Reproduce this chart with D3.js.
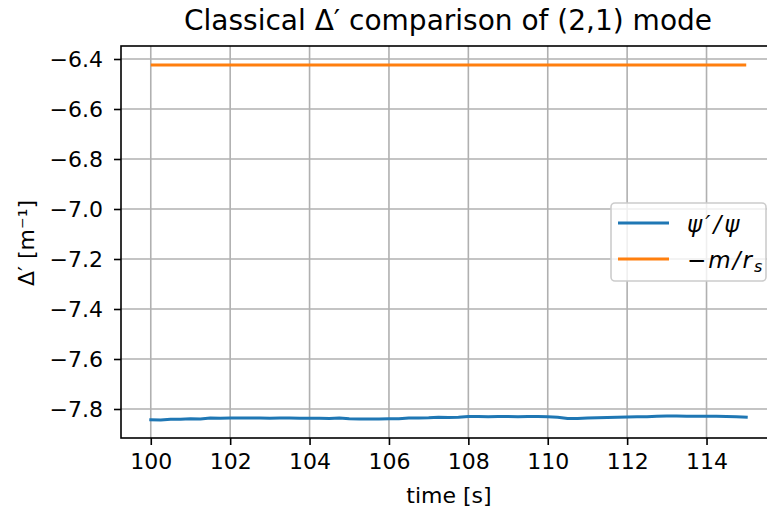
<!DOCTYPE html>
<html>
<head>
<meta charset="utf-8">
<script src="https://cdn.jsdelivr.net/npm/d3@7"></script>
<style>
body { margin: 0; background: #fff; }
text { font-family: "DejaVu Sans", sans-serif; fill: #000; }
</style>
</head>
<body>
<div id="chart"></div>
<script>
// time samples (s) and psi'/psi values
const times = [100,100.25,100.5,100.75,101,101.25,101.5,101.75,102,102.25,102.5,102.75,103,103.25,103.5,103.75,104,104.25,104.5,104.75,105,105.25,105.5,105.75,106,106.25,106.5,106.75,107,107.25,107.5,107.75,108,108.25,108.5,108.75,109,109.25,109.5,109.75,110,110.25,110.5,110.75,111,111.25,111.5,111.75,112,112.25,112.5,112.75,113,113.25,113.5,113.75,114,114.25,114.5,114.75,115];
const psiRatio = [-7.843,-7.844,-7.841,-7.841,-7.839,-7.840,-7.836,-7.837,-7.836,-7.836,-7.836,-7.836,-7.837,-7.836,-7.836,-7.837,-7.837,-7.837,-7.838,-7.836,-7.839,-7.840,-7.840,-7.840,-7.839,-7.839,-7.836,-7.836,-7.835,-7.833,-7.834,-7.833,-7.830,-7.830,-7.831,-7.830,-7.830,-7.831,-7.830,-7.830,-7.831,-7.833,-7.838,-7.838,-7.836,-7.835,-7.834,-7.833,-7.832,-7.831,-7.831,-7.829,-7.828,-7.828,-7.829,-7.829,-7.829,-7.829,-7.830,-7.831,-7.833];
const mOverRs = -6.424;
const xTicks = [100,102,104,106,108,110,112,114];
const yTicks = [-6.4,-6.6,-6.8,-7.0,-7.2,-7.4,-7.6,-7.8];

var width = 767, height = 512;
var margin = {left: 121, top: 46, right: -9, bottom: 74};

var svg = d3.select("#chart").append("svg")
    .attr("width", width)
    .attr("height", height);

var x = d3.scaleLinear()
    .domain([99.25, 115.75])
    .range([margin.left, width - margin.right]);
var y = d3.scaleLinear()
    .domain([-7.916, -6.348])
    .range([height - margin.bottom, margin.top]);

var plotW = width - margin.right - margin.left;
var plotH = height - margin.bottom - margin.top;

// grid
svg.append("g").selectAll("line").data(xTicks).enter().append("line")
    .attr("x1", d => x(d)).attr("x2", d => x(d))
    .attr("y1", margin.top).attr("y2", height - margin.bottom)
    .attr("stroke", "#b0b0b0").attr("stroke-width", 1.6);
svg.append("g").selectAll("line").data(yTicks).enter().append("line")
    .attr("y1", d => y(d)).attr("y2", d => y(d))
    .attr("x1", margin.left).attr("x2", width - margin.right)
    .attr("stroke", "#b0b0b0").attr("stroke-width", 1.6);

// lines
var line = d3.line().x(d => x(d[0])).y(d => y(d[1]));
var blue = times.map((t, i) => [t, psiRatio[i]]);
var orange = times.map(t => [t, mOverRs]);

svg.append("path").datum(orange)
    .attr("d", line).attr("fill", "none")
    .attr("stroke", "#ff7f0e").attr("stroke-width", 3);
svg.append("path").datum(blue)
    .attr("d", line).attr("fill", "none")
    .attr("stroke", "#1f77b4").attr("stroke-width", 3)
    .attr("stroke-linejoin", "round").attr("stroke-linecap", "square");

// axes
var xAxis = svg.append("g")
    .attr("transform", "translate(0," + (height - margin.bottom) + ")")
    .call(d3.axisBottom(x).tickValues(xTicks).tickSize(7).tickPadding(8).tickFormat(d3.format("d")));
var yAxis = svg.append("g")
    .attr("transform", "translate(" + margin.left + ",0)")
    .call(d3.axisLeft(y).tickValues(yTicks).tickSize(7).tickPadding(11)
        .tickFormat(d => d3.format(".1f")(d).replace("-", "\u2212")));

[xAxis, yAxis].forEach(function(a) {
    a.select(".domain").remove();
    a.selectAll(".tick line").attr("stroke", "#000").attr("stroke-width", 1.6);
    a.selectAll(".tick text").style("font-size", "22px").style("font-family", "DejaVu Sans");
});

// spines
svg.append("rect")
    .attr("x", margin.left).attr("y", margin.top)
    .attr("width", plotW).attr("height", plotH)
    .attr("fill", "none").attr("stroke", "#000").attr("stroke-width", 1.6);

// title & labels
svg.append("text")
    .attr("x", 448).attr("y", 30)
    .attr("text-anchor", "middle").style("font-size", "28px")
    .text("Classical \u0394\u2032 comparison of (2,1) mode");
svg.append("text")
    .attr("x", 449).attr("y", 503)
    .attr("text-anchor", "middle").style("font-size", "22px")
    .text("time [s]");
svg.append("text")
    .attr("transform", "translate(34,243) rotate(-90)")
    .attr("text-anchor", "middle").style("font-size", "22px")
    .text("\u0394\u2032 [m\u207b\u00b9]");

// legend
var leg = svg.append("g");
leg.append("rect")
    .attr("x", 611).attr("y", 203).attr("width", 155).attr("height", 78)
    .attr("rx", 4).attr("fill", "#fff").attr("fill-opacity", 0.8)
    .attr("stroke", "#cccccc").attr("stroke-width", 1.6);
var legItems = [
    {color: "#1f77b4", y: 223},
    {color: "#ff7f0e", y: 259}
];
leg.selectAll("line").data(legItems).enter().append("line")
    .attr("x1", 618).attr("x2", 669)
    .attr("y1", d => d.y).attr("y2", d => d.y)
    .attr("stroke", d => d.color).attr("stroke-width", 3);

var t1 = leg.append("text").attr("x", 687).attr("y", 232)
    .style("font-size", "23px").style("font-style", "italic").style("letter-spacing", "3px");
t1.text("\u03c8\u2032/\u03c8");
var t2 = leg.append("text").attr("x", 687).attr("y", 268)
    .style("font-size", "23px").style("letter-spacing", "2px");
t2.append("tspan").text("\u2212");
t2.append("tspan").style("font-style", "italic").text("m/r");
t2.append("tspan").style("font-style", "italic").attr("dy", 4).style("font-size", "16px").text("s");
</script>
</body>
</html>
